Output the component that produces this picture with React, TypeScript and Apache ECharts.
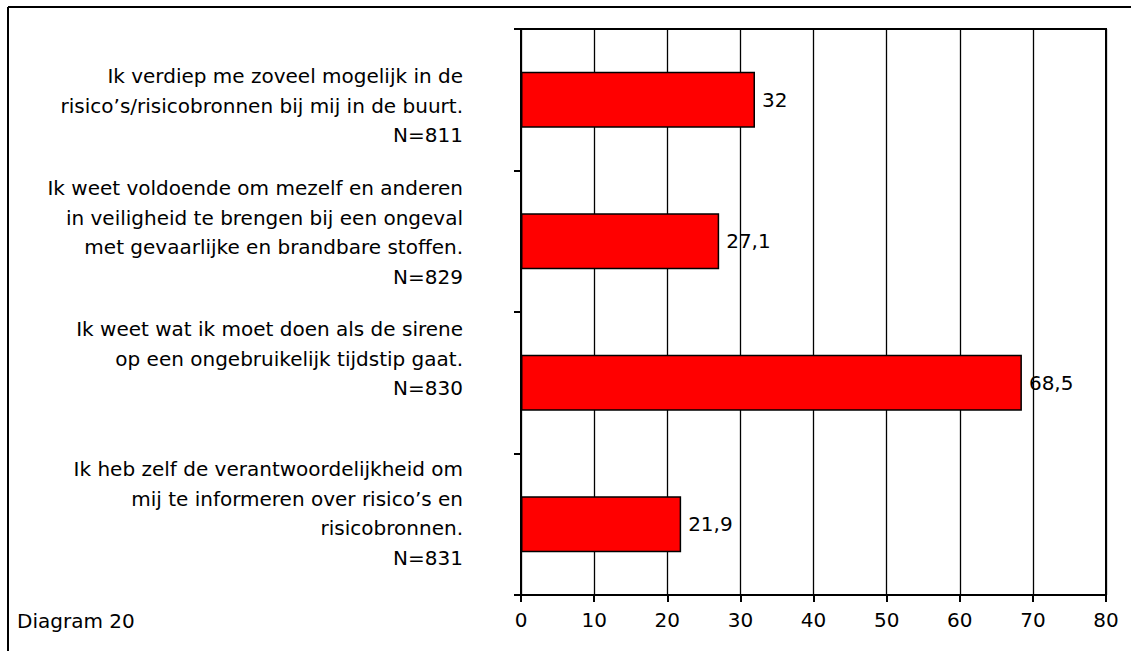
import React, { useEffect, useRef } from "react";
import * as echarts from "echarts";

const categories = [
  "Ik verdiep me zoveel mogelijk in de\nrisico’s/risicobronnen bij mij in de buurt.\nN=811",
  "Ik weet voldoende om mezelf en anderen\nin veiligheid te brengen bij een ongeval\nmet gevaarlijke en brandbare stoffen.\nN=829",
  "Ik weet wat ik moet doen als de sirene\nop een ongebruikelijk tijdstip gaat.\nN=830",
  "Ik heb zelf de verantwoordelijkheid om\nmij te informeren over risico’s en\nrisicobronnen.\nN=831",
];
const values = [32, 27.1, 68.5, 21.9];
const xTicks = [0, 10, 20, 30, 40, 50, 60, 70, 80];
// vertical nudge of each category label block (px, + = down)
const labelShift = [6, -9, -24, -11];
const captionText = "Diagram 20";

const FONT = "'DejaVu Sans', Verdana, sans-serif";
const FS = 20;
const LH = 29.5;

export default function App() {
  const ref = useRef<HTMLDivElement>(null);
  useEffect(() => {
    if (!ref.current) return;
    const chart = echarts.init(ref.current, undefined, { renderer: "svg" });
    const rich: any = {
      t: { fontSize: FS, lineHeight: LH, fontFamily: FONT, color: "#000", align: "right" },
    };
    labelShift.forEach((s, i) => {
      rich["p" + i] = { fontSize: 1, lineHeight: Math.abs(s) * 2, color: "transparent" };
    });
    chart.setOption({
      animation: false,
      backgroundColor: "#fff",
      textStyle: { fontFamily: FONT },
      grid: {
        left: 521,
        right: 25,
        top: 29,
        bottom: 56,
        show: true,
        borderColor: "#000",
        borderWidth: 2,
        backgroundColor: "transparent",
      },
      xAxis: {
        type: "value",
        min: xTicks[0],
        max: xTicks[xTicks.length - 1],
        interval: 10,
        axisLine: { show: true, lineStyle: { color: "#000", width: 2 } },
        axisTick: { show: true, length: 7, lineStyle: { color: "#000", width: 2 } },
        axisLabel: { color: "#000", fontSize: FS, fontFamily: FONT, margin: 15 },
        splitLine: { show: true, lineStyle: { color: "#000", width: 1.3 } },
      },
      yAxis: {
        type: "category",
        inverse: true,
        data: categories,
        axisLine: { show: true, onZero: false, lineStyle: { color: "#000", width: 2 } },
        axisTick: { show: true, length: 7, lineStyle: { color: "#000", width: 2 } },
        axisLabel: {
          color: "#000",
          fontSize: FS,
          fontFamily: FONT,
          lineHeight: LH,
          align: "right",
          margin: 58,
          interval: 0,
          rich,
          formatter: (v: string, idx: number) => {
            const i = categories.indexOf(v);
            const k = i >= 0 ? i : idx;
            const lines = v.split("\n").map((l) => "{t|" + l + "}");
            const s = labelShift[k] || 0;
            const pad = "{p" + k + "| }";
            if (s > 0) lines.unshift(pad);
            else if (s < 0) lines.push(pad);
            return lines.join("\n");
          },
        },
        splitLine: { show: false },
      },
      series: [
        {
          type: "bar",
          data: values,
          barWidth: 56,
          itemStyle: { color: "#FF0000", borderColor: "#000", borderWidth: 1.5 },
          label: {
            show: true,
            position: "right",
            distance: 7,
            color: "#000",
            fontSize: FS,
            fontFamily: FONT,
            formatter: (p: any) => String(p.value).replace(".", ","),
          },
        },
      ],
      graphic: [
        {
          type: "line",
          shape: { x1: 8, y1: 7, x2: 1131, y2: 7 },
          style: { stroke: "#000", lineWidth: 2 },
        },
        {
          type: "line",
          shape: { x1: 8, y1: 7, x2: 8, y2: 651 },
          style: { stroke: "#000", lineWidth: 2 },
        },
        {
          type: "text",
          left: 17,
          top: 611,
          style: { text: captionText, fontSize: FS, fontFamily: FONT, fill: "#000" },
        },
      ],
    });
    return () => chart.dispose();
  }, []);
  return (
    <div
      ref={ref}
      style={{ position: "fixed", left: 0, top: 0, width: 1131, height: 651 }}
    />
  );
}
